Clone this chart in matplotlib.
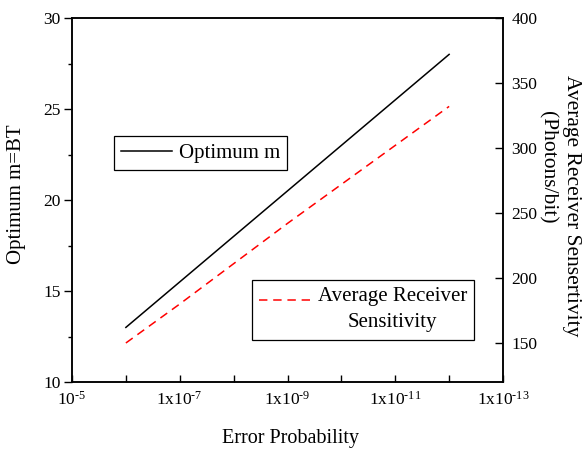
import numpy as np
import matplotlib
matplotlib.use("Agg")
import matplotlib.pyplot as plt
from matplotlib.legend_handler import HandlerLine2D
from matplotlib.lines import Line2D

plt.rcParams['font.family'] = ['Liberation Serif', 'DejaVu Serif']
plt.rcParams['mathtext.fontset'] = 'custom'
plt.rcParams['mathtext.rm'] = 'Liberation Serif'
plt.rcParams['mathtext.it'] = 'Liberation Serif:italic'

# ---- data ----
error_prob = [1e-6, 1e-7, 1e-8, 1e-9, 1e-10, 1e-11, 1e-12]
optimum_m = [13.0, 15.5, 18.0, 20.5, 23.0, 25.5, 28.0]
sensitivity = [150, 180, 211, 242, 272, 302, 332]

xtick_values = [1e-5, 1e-6, 1e-7, 1e-8, 1e-9, 1e-10, 1e-11, 1e-12, 1e-13]
xtick_labels = ['$\\mathregular{10^{\u20105}}$', '',
                '1x$\\mathregular{10^{\u20107}}$', '',
                '1x$\\mathregular{10^{\u20109}}$', '',
                '1x$\\mathregular{10^{\u201011}}$', '',
                '1x$\\mathregular{10^{\u201013}}$']
left_ticks = [10, 15, 20, 25, 30]
right_ticks = [150, 200, 250, 300, 350, 400]

W, H = 583, 454
fig = plt.figure(figsize=(W / 100, H / 100), dpi=100)
L, R, T, B = 72, 503, 18, 382
ax = fig.add_axes([L / W, 1 - B / H, (R - L) / W, (B - T) / H])
ax2 = ax.twinx()

ax.set_xscale('log')
ax.set_xlim(1e-5, 1e-13)
ax.set_ylim(10, 30)
ax2.set_ylim(120, 400)

l1, = ax.plot(error_prob, optimum_m, color='black', lw=1.1)
l2, = ax2.plot(error_prob, sensitivity, color='red', lw=1.1,
               linestyle=(0, (5.5, 3.8)))

ax.set_xticks(xtick_values)
ax.set_xticklabels(xtick_labels)
ax.xaxis.set_minor_locator(matplotlib.ticker.NullLocator())
ax.set_yticks(left_ticks)
ax.set_yticks([12.5, 17.5, 22.5, 27.5], minor=True)
ax2.set_yticks(right_ticks)

for a in (ax, ax2):
    for s in a.spines.values():
        s.set_linewidth(1.1)

ax.tick_params(axis='x', which='major', direction='in', length=5, width=1.0,
               labelsize=12.5, pad=6, top=False)
ax.tick_params(axis='y', which='major', direction='out', length=6, width=1.0,
               labelsize=12.5, pad=2)
ax.tick_params(axis='y', which='minor', direction='out', length=3, width=1.0)
ax2.tick_params(axis='y', which='major', direction='in', length=6, width=1.0,
                labelsize=12.5, pad=6)

# axis labels
fig.text(17 / W, 1 - 194 / H, 'Optimum m=BT', rotation=90, ha='center',
         va='center', fontsize=15)
fig.text(290 / W, 1 - 438 / H, 'Error Probability', ha='center',
         va='center', fontsize=14.5)
fig.text(572 / W, 1 - 206 / H, 'Average Receiver Sensertivity', rotation=270,
         ha='center', va='center', fontsize=15.5)
fig.text(547 / W, 1 - 167 / H, '(Photons/bit)', rotation=270,
         ha='center', va='center', fontsize=15.5)


class UpHandler(HandlerLine2D):
    def create_artists(self, legend, orig_handle, xdescent, ydescent, width,
                       height, fontsize, trans):
        arts = super().create_artists(legend, orig_handle, xdescent, ydescent,
                                      width, height, fontsize, trans)
        for a in arts:
            a.set_ydata(np.asarray(a.get_ydata()) + fontsize * 0.45)
        return arts


leg1 = ax2.legend([l1], ['Optimum m'], loc='upper left',
                  bbox_to_anchor=((114 - L) / (R - L), (B - 136) / (B - T)),
                  borderaxespad=0, fancybox=False, edgecolor='black',
                  framealpha=1, fontsize=15, handlelength=2.45,
                  handletextpad=0.3, borderpad=0.35)
leg1.get_frame().set_linewidth(0.9)
ax2.add_artist(leg1)

leg2 = ax2.legend([l2], ['Average Receiver\nSensitivity'], loc='upper left',
                  bbox_to_anchor=((252 - L) / (R - L), (B - 280) / (B - T)),
                  borderaxespad=0, fancybox=False, edgecolor='black',
                  framealpha=1, fontsize=15, handlelength=2.45,
                  handletextpad=0.35, borderpad=0.35,
                  handler_map={Line2D: UpHandler()})
leg2.get_frame().set_linewidth(0.9)
leg2.get_texts()[0].set_multialignment('center')
leg2.get_texts()[0].set_linespacing(1.5)

fig.savefig('out.png', dpi=100)
